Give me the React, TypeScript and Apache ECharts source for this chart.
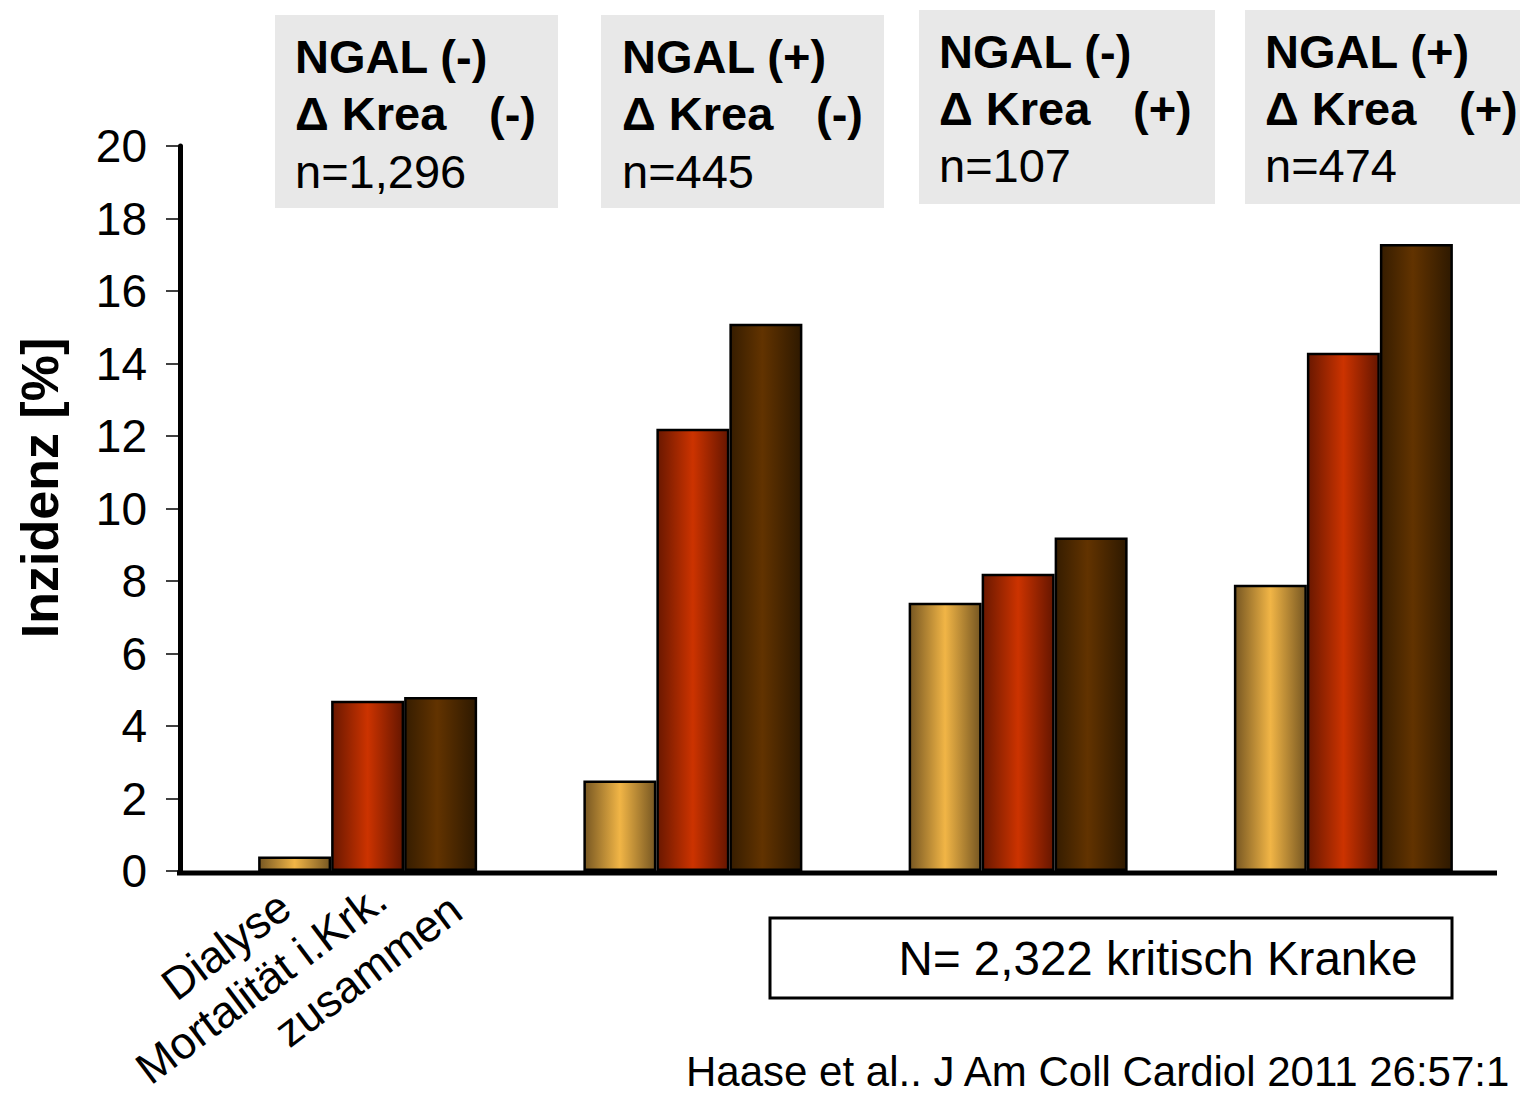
import React, { useEffect, useRef } from "react";
import * as echarts from "echarts";

// Incidence (%) per patient group: dialysis, in-hospital mortality, combined
const groups = ["G1", "G2", "G3", "G4"];
const seriesNames = ["Dialyse", "Mortalität i.Krk.", "zusammen"];
const dialyse = [0.4, 2.5, 7.4, 7.9];
const mortalitaet = [4.7, 12.2, 8.2, 14.3];
const zusammen = [4.8, 15.1, 9.2, 17.3];

// Group header boxes
const ngalSigns = ["(-)", "(+)", "(-)", "(+)"];
const kreaSigns = ["(-)", "(-)", "(+)", "(+)"];
const groupCounts = ["n=1,296", "n=445", "n=107", "n=474"];

const yTicks = { min: 0, max: 20, interval: 2 };
const axisTitle = "Inzidenz [%]";
const totalNote = "N= 2,322 kritisch Kranke";
const citation = "Haase et al.. J Am Coll Cardiol 2011 26:57:1";

const FONT = "'Liberation Sans', Arial, Helvetica, sans-serif";

// layout of the header boxes
const boxLayout = [
  { x: 275, y: 15, w: 283, h: 193, tx: 295, ty: [56, 113, 171] },
  { x: 601, y: 15, w: 283, h: 193, tx: 622, ty: [56, 113, 171] },
  { x: 919, y: 10, w: 296, h: 194, tx: 939, ty: [51, 108, 165] },
  { x: 1245, y: 10, w: 290, h: 194, tx: 1265, ty: [51, 108, 165] },
];

// anchor points (right end) of the rotated series labels
const seriesLabelAnchors = [
  [285, 901],
  [381, 893],
  [456, 904],
];

const grad = (edgeL: string, mid: string, edgeR: string, midPos = 0.5) =>
  new echarts.graphic.LinearGradient(0, 0, 1, 0, [
    { offset: 0, color: edgeL },
    { offset: midPos, color: mid },
    { offset: 1, color: edgeR },
  ]);

export default function App() {
  const ref = useRef<HTMLDivElement>(null);

  useEffect(() => {
    if (!ref.current) return;
    const chart = echarts.init(ref.current, null, {
      renderer: "svg",
      width: 1520,
      height: 1093,
    });

    const fills = [
      grad("#775722", "#f1b546", "#775722", 0.5),
      grad("#6a1800", "#cc3300", "#661600", 0.5),
      grad("#361d00", "#623300", "#2e1900", 0.45),
    ];
    const values = [dialyse, mortalitaet, zusammen];

    const graphics: any[] = [];

    // x axis baseline
    graphics.push({
      type: "line",
      shape: { x1: 177, y1: 873, x2: 1497, y2: 873 },
      style: { stroke: "#000", lineWidth: 5 },
      z: 10,
    });

    // y axis title
    graphics.push({
      type: "text",
      x: 40,
      y: 488,
      rotation: Math.PI / 2,
      style: {
        text: axisTitle,
        font: `bold 52px ${FONT}`,
        fill: "#000",
        align: "center",
        verticalAlign: "middle",
      },
    });

    // header boxes
    boxLayout.forEach((b, i) => {
      graphics.push({
        type: "rect",
        shape: { x: b.x, y: b.y, width: b.w, height: b.h },
        style: { fill: "#e8e8e8" },
      });
      graphics.push({
        type: "text",
        x: b.tx,
        y: b.ty[0],
        style: {
          text: `NGAL ${ngalSigns[i]}`,
          font: `bold 47px ${FONT}`,
          fill: "#000",
          align: "left",
          verticalAlign: "middle",
        },
      });
      graphics.push({
        type: "text",
        x: b.tx,
        y: b.ty[1],
        style: {
          text: "Δ Krea",
          font: `bold 47px ${FONT}`,
          fill: "#000",
          align: "left",
          verticalAlign: "middle",
        },
      });
      graphics.push({
        type: "text",
        x: b.tx + 194,
        y: b.ty[1],
        style: {
          text: kreaSigns[i],
          font: `bold 47px ${FONT}`,
          fill: "#000",
          align: "left",
          verticalAlign: "middle",
        },
      });
      graphics.push({
        type: "text",
        x: b.tx,
        y: b.ty[2],
        style: {
          text: groupCounts[i],
          font: `47px ${FONT}`,
          fill: "#000",
          align: "left",
          verticalAlign: "middle",
        },
      });
    });

    // rotated series labels under the first group
    seriesNames.forEach((name, i) => {
      graphics.push({
        type: "text",
        x: seriesLabelAnchors[i][0],
        y: seriesLabelAnchors[i][1],
        rotation: (37 * Math.PI) / 180,
        style: {
          text: name,
          font: `45px ${FONT}`,
          fill: "#000",
          align: "right",
          verticalAlign: "middle",
        },
      });
    });

    // total count box
    graphics.push({
      type: "rect",
      shape: { x: 770, y: 918, width: 682, height: 80 },
      style: { fill: "#fff", stroke: "#000", lineWidth: 3 },
    });
    graphics.push({
      type: "text",
      x: 1158,
      y: 958,
      style: {
        text: totalNote,
        font: `47.5px ${FONT}`,
        fill: "#000",
        align: "center",
        verticalAlign: "middle",
      },
    });

    // citation
    graphics.push({
      type: "text",
      x: 686,
      y: 1071,
      style: {
        text: citation,
        font: `42px ${FONT}`,
        fill: "#000",
        align: "left",
        verticalAlign: "middle",
      },
    });

    chart.setOption({
      animation: false,
      backgroundColor: "#fff",
      grid: { left: 205, right: 14, top: 146, bottom: 222, containLabel: false },
      xAxis: {
        type: "category",
        data: groups,
        axisLine: { show: false },
        axisTick: { show: false },
        axisLabel: { show: false },
        splitLine: { show: false },
      },
      yAxis: {
        type: "value",
        min: yTicks.min,
        max: yTicks.max,
        interval: yTicks.interval,
        offset: 25,
        axisLine: { show: true, lineStyle: { color: "#000", width: 5 } },
        axisTick: {
          show: true,
          length: 14,
          lineStyle: { color: "#000", width: 1.5 },
        },
        axisLabel: {
          color: "#000",
          fontSize: 46,
          fontFamily: FONT,
          margin: 33,
        },
        splitLine: { show: false },
      },
      series: seriesNames.map((name, i) => ({
        name,
        type: "bar",
        data: values[i],
        barWidth: 73,
        barGap: "0%",
        itemStyle: {
          color: fills[i],
          borderColor: "#000",
          borderWidth: 2.5,
        },
        z: 2,
      })),
      graphic: graphics,
    });

    return () => chart.dispose();
  }, []);

  return (
    <div
      ref={ref}
      style={{
        position: "absolute",
        left: 0,
        top: 0,
        width: 1520,
        height: 1093,
        background: "#fff",
      }}
    />
  );
}
